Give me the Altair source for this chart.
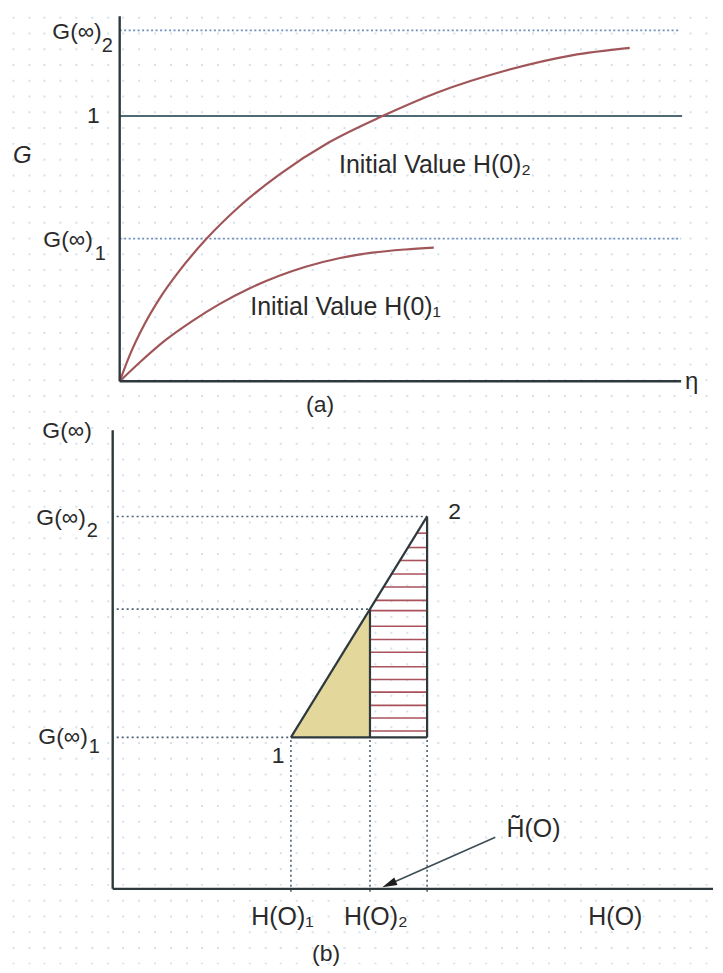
import math
import altair as alt
import pandas as pd

# ---------------- panel (a) data ----------------
eta_curve2 = [0, 0.2, 0.5, 0.8, 1.2, 1.74, 2.4, 3.2, 4.2, 5.27, 6.4, 7.73, 9.07, 10.23]
G_curve2 = [0, 0.098, 0.216, 0.312, 0.417, 0.537, 0.659, 0.779, 0.901, 1.0, 1.091, 1.171, 1.229, 1.257]
eta_curve1 = [0, 0.4, 0.93, 1.47, 2.0, 2.6, 3.2, 3.73, 4.4, 5.07, 5.73, 6.3]
G_curve1 = [0, 0.071, 0.157, 0.229, 0.291, 0.350, 0.398, 0.432, 0.464, 0.485, 0.497, 0.504]
G_inf_1 = 0.538
G_inf_2 = 1.323
G_unity = 1.0
eta_axis_end = 11.26
G_axis_top_a = 1.376

# ---------------- panel (b) data ----------------
H_O_1 = 1.787
H_O_2 = 2.58
H_tilde = 3.153
hatch_G = [1.2636, 1.2126, 1.1665, 1.1183, 1.0723, 1.0248, 0.9883, 0.9327,
           0.8856, 0.8406, 0.7889, 0.7439, 0.6989, 0.6518, 0.6068, 0.5608]
H_axis_end = 6.02
G_axis_top_b = 1.6295
arrow_from = (3.837, 0.183)
arrow_to = (2.703, 0.006)

# ---------------- style ----------------
FONT = "Liberation Sans"
TXT = "#2a2a2a"
AXIS = "#2e393d"
CURVE = "#a05558"
UNITY = "#4e6a74"
DOT_A = "#6f90bf"
DOT_B = "#4f6170"
YELLOW = "#e3d79b"
HATCH = "#a9525c"
BG_DOT = "#d3e1ee"

W = 707
HA = 412
HB = 545
xa = alt.Scale(domain=[-2.24, 11.9], nice=False, zero=False)
ya = alt.Scale(domain=[-0.14662, 1.40226], nice=False, zero=False)
xb = alt.Scale(domain=[-1.05, 6.02], nice=False, zero=False)
yb = alt.Scale(domain=[-0.26568, 1.66490], nice=False, zero=False)

grid_a = [(12.7 + 15.8 * k - 120) / 50 for k in range(45)]
grid_b = [(12.7 + 15.8 * k - 113) / 100 for k in range(45)]


def bg_axis(vals, offset):
    return alt.Axis(grid=True, values=vals, labels=False, ticks=False, domain=False,
                    gridColor=BG_DOT, gridWidth=2, gridDash=[2, 13.8], gridDashOffset=offset,
                    minExtent=0, maxExtent=0)


AX_A = bg_axis(grid_a, 8.8)
AX_B = bg_axis(grid_b, 9.5)


def enc(xs, ys, ax, x="x", y="y", x2=None, y2=None):
    e = dict(x=alt.X(x, type="quantitative", scale=xs, axis=ax, title=None),
             y=alt.Y(y, type="quantitative", scale=ys, axis=None, title=None))
    if x2:
        e["x2"] = alt.X2(x2)
    if y2:
        e["y2"] = alt.Y2(y2)
    return e


def texts(df, xs, ys, ax, size, align="left", baseline="middle", style="normal"):
    return alt.Chart(df).mark_text(font=FONT, fontSize=size, align=align, baseline=baseline,
                                   color=TXT, fontStyle=style).encode(
        text="t:N", **enc(xs, ys, ax))


# ================= panel (a) =================
refs_a = pd.DataFrame({"x": [0, 0], "x2": [11.2, eta_axis_end], "y": [G_inf_2, G_inf_1]})
unity = pd.DataFrame({"x": [0], "x2": [11.28], "y": [G_unity]})
axes_a = pd.DataFrame({"x": [0, 0], "x2": [0, eta_axis_end], "y": [0, 0], "y2": [G_axis_top_a, 0]})
curves = pd.DataFrame({
    "x": eta_curve2 + eta_curve1,
    "y": G_curve2 + G_curve1,
    "s": ["H2"] * len(eta_curve2) + ["H1"] * len(eta_curve1),
})

a_layers = [
    alt.Chart(refs_a).mark_rule(color=DOT_A, strokeWidth=1.8, strokeDash=[2, 2.5]).encode(**enc(xa, ya, AX_A, x2="x2")),
    alt.Chart(unity).mark_rule(color=UNITY, strokeWidth=2).encode(**enc(xa, ya, AX_A, x2="x2")),
    alt.Chart(curves).mark_line(color=CURVE, strokeWidth=2.2, interpolate="monotone").encode(
        detail="s:N", **enc(xa, ya, AX_A)),
    alt.Chart(axes_a).mark_rule(color=AXIS, strokeWidth=2.4).encode(**enc(xa, ya, AX_A, x2="x2", y2="y2")),
    texts(pd.DataFrame({"x": [-0.36, -0.54], "y": [1.3177, 0.5338], "t": ["G(∞)", "G(∞)"]}), xa, ya, AX_A, 23, "right"),
    texts(pd.DataFrame({"x": [-0.36, -0.50], "y": [1.2630, 0.4790], "t": ["2", "1"]}), xa, ya, AX_A, 20, "left"),
    texts(pd.DataFrame({"x": [-0.40], "y": [1.0], "t": ["1"]}), xa, ya, AX_A, 23, "right"),
    texts(pd.DataFrame({"x": [-2.14], "y": [0.8496], "t": ["G"]}), xa, ya, AX_A, 24, "left", style="italic"),
    texts(pd.DataFrame({"x": [11.34], "y": [-0.004], "t": ["η"]}), xa, ya, AX_A, 24, "left"),
    texts(pd.DataFrame({"x": [4.40, 2.62], "y": [0.7857, 0.2481],
                        "t": ["Initial Value H(0)₂", "Initial Value H(0)₁"]}), xa, ya, AX_A, 25, "left", "alphabetic"),
    texts(pd.DataFrame({"x": [4.02], "y": [-0.0902], "t": ["(a)"]}), xa, ya, AX_A, 23, "center"),
]
panel_a = alt.layer(*a_layers).properties(width=W, height=HA)

# ================= panel (b) =================
slope = (G_inf_2 - G_inf_1) / (H_tilde - H_O_1)
G_mid = G_inf_1 + (H_O_2 - H_O_1) * slope

hatch = pd.DataFrame({
    "x": [max(H_O_2, H_O_1 + (g - G_inf_1) / slope) for g in hatch_G],
    "x2": [H_tilde] * len(hatch_G),
    "y": hatch_G,
})
yellow = pd.DataFrame({"x": [H_O_1, H_O_2], "y": [G_inf_1, G_mid], "y2": [G_inf_1, G_inf_1]})
outline = pd.DataFrame({
    "x": [H_O_1, H_O_1, H_O_2, H_tilde],
    "x2": [H_tilde, H_tilde, H_O_2, H_tilde],
    "y": [G_inf_1, G_inf_1, G_inf_1, G_inf_1],
    "y2": [G_inf_2, G_inf_1, G_mid, G_inf_2],
})
dots_b = pd.DataFrame({
    "x": [0.04, 0.04, 0.04, H_O_1, H_O_2, H_tilde],
    "x2": [H_tilde, H_O_2, H_O_1, H_O_1, H_O_2, H_tilde],
    "y": [G_inf_2, G_mid, G_inf_1, -0.01, -0.01, -0.01],
    "y2": [G_inf_2, G_mid, G_inf_1, G_inf_1, G_inf_1, G_inf_1],
})
axes_b = pd.DataFrame({"x": [0, 0], "x2": [0, H_axis_end], "y": [0, 0], "y2": [G_axis_top_b, 0]})

pxH = W / (6.02 + 1.05)
pxG = HB / (1.66490 + 0.26568)
sx = (arrow_to[0] - arrow_from[0]) * pxH
sy = -(arrow_to[1] - arrow_from[1]) * pxG
ln = math.hypot(sx, sy)
head_angle = (math.degrees(math.atan2(sx, -sy)) + 360) % 360
back = 7.5
head = pd.DataFrame({"x": [arrow_to[0] - back * sx / ln / pxH], "y": [arrow_to[1] + back * sy / ln / pxG]})
arrow = pd.DataFrame({"x": [arrow_from[0]], "y": [arrow_from[1]],
                      "x2": [head["x"][0]], "y2": [head["y"][0]]})

b_layers = [
    alt.Chart(yellow).mark_area(color=YELLOW, opacity=1).encode(**enc(xb, yb, AX_B, y2="y2")),
    alt.Chart(hatch).mark_rule(color=HATCH, strokeWidth=1.6).encode(**enc(xb, yb, AX_B, x2="x2")),
    alt.Chart(dots_b).mark_rule(color=DOT_B, strokeWidth=1.6, strokeDash=[2, 3]).encode(
        **enc(xb, yb, AX_B, x2="x2", y2="y2")),
    alt.Chart(outline).mark_rule(color=AXIS, strokeWidth=2.2).encode(**enc(xb, yb, AX_B, x2="x2", y2="y2")),
    alt.Chart(axes_b).mark_rule(color=AXIS, strokeWidth=2.4).encode(**enc(xb, yb, AX_B, x2="x2", y2="y2")),
    alt.Chart(arrow).mark_rule(color="#3d4d55", strokeWidth=1.6).encode(**enc(xb, yb, AX_B, x2="x2", y2="y2")),
    alt.Chart(head).mark_point(shape="M0,-1L0.55,1L-0.55,1Z", filled=True, color="#1e1e1e", opacity=1,
                               size=220, angle=round(head_angle, 1)).encode(**enc(xb, yb, AX_B)),
    texts(pd.DataFrame({"x": [-0.21, -0.27, -0.25], "y": [1.6259, 1.3178, 0.5384],
                        "t": ["G(∞)", "G(∞)", "G(∞)"]}), xb, yb, AX_B, 23, "right"),
    texts(pd.DataFrame({"x": [-0.26, -0.24], "y": [1.2720, 0.5030], "t": ["2", "1"]}), xb, yb, AX_B, 20, "left"),
    texts(pd.DataFrame({"x": [1.66, 3.43], "y": [0.4711, 1.339], "t": ["1", "2"]}), xb, yb, AX_B, 23, "center"),
    texts(pd.DataFrame({"x": [3.95, 1.39, 2.32, 4.77], "y": [0.2125, -0.0992, -0.0992, -0.0992],
                        "t": ["H\u0303(O)", "H(O)₁", "H(O)₂", "H(O)"]}), xb, yb, AX_B, 25, "left"),
    texts(pd.DataFrame({"x": [2.14], "y": [-0.2303], "t": ["(b)"]}), xb, yb, AX_B, 23, "center"),
]
panel_b = alt.layer(*b_layers).properties(width=W, height=HB)

chart = alt.vconcat(panel_a, panel_b, spacing=0).properties(
    padding=0, background="white"
).configure_view(stroke=None)

chart.save("out.html", embed_options={"renderer": "svg", "actions": False})
